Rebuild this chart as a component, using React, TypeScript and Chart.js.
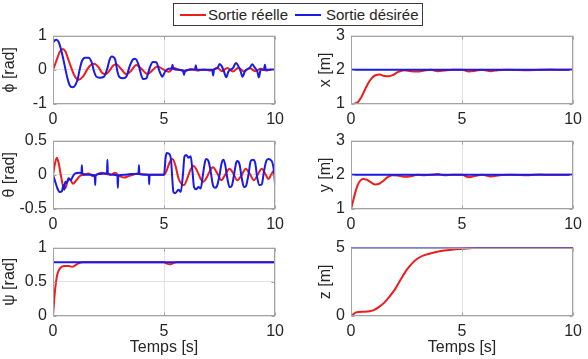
import { useEffect, useRef } from "react";
import { Chart, registerables } from "chart.js";

Chart.register(...registerables);

const FONT = '"Liberation Sans", Arial, Helvetica, sans-serif';
const TEXT = "#262626";
const BOX = "#a3a3a3";
const GRID = "#e2e2e2";
const RED = "#ee1c1c";
const BLUE = "#1a1ae6";

const LABEL_REAL = "Sortie réelle";
const LABEL_DESIRED = "Sortie désirée";
const TIME_LABEL = "Temps [s]";

// Shared time axis
const timeTicks = [0, 5, 10];

// ---- phi (roll) ----
const phiTicks = [-1, 0, 1];
const phiRealT = [0, 0.1, 0.2, 0.3, 0.44, 0.55, 0.65, 0.8, 0.95, 1.15, 1.35, 1.55, 1.7, 1.85, 2.05, 2.2, 2.35, 2.55, 2.7, 2.85, 3.05, 3.3, 3.5, 3.75, 3.95, 4.25, 4.45, 4.7, 4.95, 5.2, 5.45, 5.7, 5.95, 6.2, 6.5, 6.8, 7.1, 7.4, 7.6, 7.85, 8.1, 8.35, 8.6, 8.85, 9.1, 9.35, 9.6, 9.8, 10];
const phiRealV = [0, 0.17, 0.35, 0.52, 0.61, 0.55, 0.38, 0.1, -0.15, -0.29, -0.2, 0.02, 0.14, 0.18, 0.08, -0.08, -0.13, -0.02, 0.12, 0.16, 0.04, -0.13, -0.04, 0.14, 0.05, -0.12, -0.03, 0.1, 0.02, -0.06, 0.05, 0.0, -0.04, 0.02, -0.02, 0.01, -0.02, 0.06, -0.04, 0.05, -0.05, 0.06, -0.05, 0.05, -0.04, 0.03, -0.02, 0.01, 0.0];
const phiDesT = [0, 0.08, 0.15, 0.25, 0.35, 0.45, 0.55, 0.65, 0.75, 0.88, 1.0, 1.1, 1.2, 1.3, 1.45, 1.6, 1.75, 1.85, 1.95, 2.1, 2.3, 2.45, 2.55, 2.65, 2.8, 2.9, 3.0, 3.15, 3.3, 3.45, 3.6, 3.7, 3.85, 3.95, 4.05, 4.2, 4.35, 4.5, 4.65, 4.8, 4.92, 5.05, 5.2, 5.35, 5.38, 5.42, 5.6, 5.85, 5.9, 5.95, 6.2, 6.4, 6.43, 6.47, 6.8, 7.0, 7.17, 7.21, 7.25, 7.4, 7.5, 7.6, 7.7, 7.8, 7.9, 8.1, 8.24, 8.35, 8.45, 8.53, 8.65, 8.85, 8.97, 9.1, 9.2, 9.27, 9.35, 9.5, 9.54, 9.58, 10];
const phiDesV = [0.8, 0.86, 0.88, 0.82, 0.62, 0.35, 0.05, -0.25, -0.45, -0.51, -0.45, -0.3, 0.0, 0.25, 0.35, 0.35, 0.2, -0.05, -0.2, -0.23, -0.2, 0.05, 0.3, 0.39, 0.3, -0.05, -0.22, -0.25, -0.2, 0.1, 0.3, 0.32, 0.15, -0.1, -0.27, -0.25, 0.05, 0.23, 0.22, -0.05, -0.2, -0.05, 0.03, 0.05, 0.15, 0.03, 0.0, -0.02, -0.15, -0.02, 0.0, 0.02, 0.13, 0.0, 0.0, 0.0, 0.0, -0.17, 0.0, 0.05, 0.17, 0.1, -0.05, -0.22, -0.05, 0.05, 0.2, 0.1, -0.05, -0.2, -0.03, 0.05, 0.16, 0.05, -0.05, -0.22, 0.0, 0.0, 0.15, 0.0, 0.0];

// ---- theta (pitch) ----
const thetaTicks = [-0.5, 0, 0.5];
const thetaRealT = [0, 0.08, 0.17, 0.25, 0.35, 0.45, 0.55, 0.65, 0.75, 0.9, 1.05, 1.2, 1.4, 1.6, 1.8, 2.0, 2.2, 2.4, 2.6, 2.8, 3.0, 3.2, 3.4, 3.6, 3.8, 4.0, 4.3, 4.6, 5.0, 5.1, 5.25, 5.38, 5.5, 5.65, 5.8, 5.9, 6.05, 6.2, 6.33, 6.5, 6.65, 6.77, 6.95, 7.1, 7.2, 7.4, 7.58, 7.75, 7.95, 8.1, 8.3, 8.5, 8.68, 8.85, 9.05, 9.2, 9.4, 9.55, 9.7, 9.85, 10];
const thetaRealV = [0, 0.15, 0.25, 0.18, 0.0, -0.16, -0.2, -0.1, -0.06, -0.13, -0.08, -0.02, 0.0, 0.02, -0.02, 0.01, 0.03, 0.01, 0.0, 0.03, -0.02, -0.04, -0.02, 0.0, 0.02, 0.01, 0.0, 0.0, 0.0, 0.05, 0.18, 0.23, 0.15, -0.05, -0.14, -0.15, -0.05, 0.08, 0.13, 0.05, -0.06, -0.1, -0.02, 0.08, 0.11, 0.02, -0.08, 0.0, 0.09, 0.03, -0.08, 0.0, 0.09, 0.02, -0.08, -0.01, 0.09, 0.02, -0.06, 0.02, 0.09];
const thetaDesT = [0, 0.1, 0.2, 0.3, 0.4, 0.47, 0.5, 0.55, 0.62, 0.7, 0.8, 0.9, 1.0, 1.2, 1.28, 1.3, 1.32, 1.5, 1.7, 1.88, 1.9, 1.92, 2.1, 2.3, 2.43, 2.45, 2.47, 2.7, 2.9, 2.92, 2.94, 3.2, 3.5, 3.85, 3.87, 3.89, 4.1, 4.31, 4.33, 4.35, 4.6, 5.0, 5.07, 5.12, 5.25, 5.32, 5.37, 5.42, 5.5, 5.65, 5.75, 5.85, 5.92, 6.0, 6.1, 6.2, 6.28, 6.35, 6.45, 6.55, 6.65, 6.75, 6.85, 6.9, 7.0, 7.1, 7.2, 7.3, 7.4, 7.5, 7.6, 7.68, 7.75, 7.85, 7.95, 8.05, 8.15, 8.25, 8.3, 8.4, 8.5, 8.6, 8.68, 8.8, 8.9, 9.0, 9.1, 9.2, 9.3, 9.4, 9.5, 9.6, 9.7, 9.85, 9.95, 10];
const thetaDesV = [0, -0.1, -0.2, -0.25, -0.24, -0.15, -0.22, -0.1, -0.12, -0.05, -0.08, -0.02, 0.02, 0.03, 0.02, 0.14, 0.02, 0.0, 0.0, -0.01, -0.15, -0.01, 0.01, 0.02, 0.02, 0.22, 0.02, 0.0, -0.01, -0.19, -0.01, 0.0, 0.01, 0.01, 0.14, 0.01, 0.0, 0.0, -0.14, 0.0, 0.0, 0.0, 0.25, 0.32, 0.3, 0.2, -0.05, -0.25, -0.27, -0.22, -0.25, 0.0, 0.27, 0.29, 0.25, 0.27, 0.05, -0.18, -0.21, -0.18, -0.2, 0.0, 0.2, 0.23, 0.2, 0.05, -0.15, -0.19, -0.15, 0.0, 0.18, 0.22, 0.15, -0.05, -0.18, -0.16, 0.0, 0.18, 0.2, 0.15, -0.05, -0.18, -0.17, 0.0, 0.2, 0.22, 0.18, -0.05, -0.15, -0.14, 0.05, 0.2, 0.23, 0.2, 0.05, -0.15];

// ---- psi (yaw) ----
const psiTicks = [0, 0.5, 1];
const psiRealT = [0, 0.05, 0.1, 0.17, 0.25, 0.35, 0.5, 0.7, 0.85, 1.0, 1.15, 1.35, 2.0, 5.0, 5.1, 5.25, 5.4, 5.55, 10];
const psiRealV = [0, 0.22, 0.4, 0.57, 0.66, 0.71, 0.73, 0.73, 0.72, 0.74, 0.77, 0.785, 0.785, 0.785, 0.77, 0.755, 0.77, 0.785, 0.785];
const psiDesT = [0, 10];
const psiDesV = [0.785, 0.785];

// ---- x position ----
const xTicks = [1, 2, 3];
const xRealT = [0, 0.15, 0.3, 0.45, 0.6, 0.75, 0.9, 1.1, 1.3, 1.5, 1.7, 1.9, 2.1, 2.4, 2.7, 3.0, 3.3, 3.6, 3.9, 4.2, 4.6, 5.0, 5.3, 5.6, 5.9, 6.3, 6.6, 7.0, 8.0, 9.0, 9.5, 10];
const xRealV = [1.0, 1.01, 1.05, 1.18, 1.38, 1.58, 1.73, 1.84, 1.86, 1.82, 1.81, 1.85, 1.93, 1.99, 1.96, 1.95, 1.98, 2.0, 1.96, 1.98, 2.0, 2.0, 1.95, 1.97, 2.0, 1.96, 1.99, 2.0, 1.99, 2.01, 2.0, 2.0];
const xDesT = [0, 10];
const xDesV = [2, 2];

// ---- y position ----
const yTicks = [1, 2, 3];
const yRealT = [0, 0.1, 0.2, 0.3, 0.42, 0.55, 0.7, 0.9, 1.1, 1.25, 1.45, 1.65, 1.85, 2.1, 2.4, 2.7, 3.0, 3.3, 3.6, 3.9, 4.2, 4.6, 5.0, 5.3, 5.6, 5.9, 6.3, 6.7, 7.2, 8.0, 8.5, 9.0, 10];
const yRealV = [1.0, 1.25, 1.5, 1.7, 1.83, 1.88, 1.86, 1.78, 1.72, 1.73, 1.82, 1.93, 1.99, 1.98, 1.94, 1.96, 2.0, 1.99, 2.0, 2.02, 1.99, 2.0, 2.0, 1.93, 1.97, 2.0, 1.95, 1.99, 2.0, 1.99, 2.01, 2.0, 2.0];
const yDesT = [0, 10];
const yDesV = [2, 2];

// ---- z position ----
const zTicks = [0, 5];
const zRealT = [0, 0.1, 0.2, 0.35, 0.6, 0.85, 1.05, 1.25, 1.5, 1.75, 2.0, 2.25, 2.5, 2.75, 3.0, 3.3, 3.7, 4.2, 4.7, 5.2, 5.8, 6.5, 10];
const zRealV = [0, 0.12, 0.25, 0.3, 0.31, 0.35, 0.45, 0.65, 0.98, 1.45, 2.0, 2.7, 3.35, 3.85, 4.2, 4.45, 4.63, 4.78, 4.88, 4.94, 4.98, 5.0, 5.0];
const zDesT = [0, 10];
const zDesV = [5, 5];

type Pt = { x: number; y: number };
const zip = (t: number[], v: number[]): Pt[] => t.map((x, i) => ({ x, y: v[i] }));

type Panel = {
  key: string;
  yLabel: string;
  yTicks: number[];
  real: Pt[];
  desired: Pt[];
  col: 0 | 1;
  row: 0 | 1 | 2;
};

const panels: Panel[] = [
  { key: "phi", yLabel: "ϕ [rad]", yTicks: phiTicks, real: zip(phiRealT, phiRealV), desired: zip(phiDesT, phiDesV), col: 0, row: 0 },
  { key: "x", yLabel: "x [m]", yTicks: xTicks, real: zip(xRealT, xRealV), desired: zip(xDesT, xDesV), col: 1, row: 0 },
  { key: "theta", yLabel: "θ [rad]", yTicks: thetaTicks, real: zip(thetaRealT, thetaRealV), desired: zip(thetaDesT, thetaDesV), col: 0, row: 1 },
  { key: "y", yLabel: "y [m]", yTicks: yTicks, real: zip(yRealT, yRealV), desired: zip(yDesT, yDesV), col: 1, row: 1 },
  { key: "psi", yLabel: "ψ [rad]", yTicks: psiTicks, real: zip(psiRealT, psiRealV), desired: zip(psiDesT, psiDesV), col: 0, row: 2 },
  { key: "z", yLabel: "z [m]", yTicks: zTicks, real: zip(zRealT, zRealV), desired: zip(zDesT, zDesV), col: 1, row: 2 },
];

// Subplot geometry (page pixels)
const ROWS = [
  { top: 34, bottom: 104 },
  { top: 139, bottom: 209 },
  { top: 246, bottom: 316 },
];
const COLS = [
  { canvasLeft: 0, canvasRight: 290, left: 53, right: 280, titlePad: 0 },
  { canvasLeft: 310, canvasRight: 588, left: 351, right: 577, titlePad: 6 },
];
const TOP_MARGIN = 14;

// Axes box with inward tick marks, drawn over the data like a MATLAB axes
const axesBox = {
  id: "axesBox",
  afterDatasetsDraw(chart: any) {
    const { ctx, chartArea: a, scales } = chart;
    const l = Math.round(a.left) + 0.5;
    const r = Math.round(a.right) - 0.5;
    const t = Math.round(a.top) + 0.5;
    const b = Math.round(a.bottom) - 0.5;
    const tl = 3;
    ctx.save();
    ctx.strokeStyle = BOX;
    ctx.lineWidth = 1;
    ctx.strokeRect(l, t, r - l, b - t);
    ctx.beginPath();
    scales.x.ticks.forEach((tk: any) => {
      const px = Math.round(scales.x.getPixelForValue(tk.value)) + 0.5;
      ctx.moveTo(px, b);
      ctx.lineTo(px, b - tl);
      ctx.moveTo(px, t);
      ctx.lineTo(px, t + tl);
    });
    scales.y.ticks.forEach((tk: any) => {
      const py = Math.round(scales.y.getPixelForValue(tk.value)) + 0.5;
      ctx.moveTo(l, py);
      ctx.lineTo(l + tl, py);
      ctx.moveTo(r, py);
      ctx.lineTo(r - tl, py);
    });
    ctx.stroke();
    ctx.restore();
  },
};

function SubPlot({ p }: { p: Panel }) {
  const ref = useRef<HTMLCanvasElement | null>(null);
  const col = COLS[p.col];
  const row = ROWS[p.row];
  const isBottom = p.row === 2;
  const canvasTop = row.top - TOP_MARGIN;
  const canvasBottom = isBottom ? 359 : row.bottom + 30;
  const width = col.canvasRight - col.canvasLeft;
  const height = canvasBottom - canvasTop;

  useEffect(() => {
    if (!ref.current) return;
    const tickFont = { family: FONT, size: 16 };
    const chart = new Chart(ref.current, {
      type: "line",
      data: {
        datasets: [
          {
            label: LABEL_REAL,
            data: p.real,
            borderColor: RED,
            borderWidth: 2,
            pointRadius: 0,
            cubicInterpolationMode: "monotone",
            order: 1,
          },
          {
            label: LABEL_DESIRED,
            data: p.desired,
            borderColor: BLUE,
            borderWidth: 2,
            pointRadius: 0,
            cubicInterpolationMode: "monotone",
            order: 0,
          },
        ],
      },
      options: {
        responsive: false,
        animation: false,
        devicePixelRatio: 1,
        events: [],
        layout: {
          padding: { top: TOP_MARGIN, right: col.canvasRight - col.right, left: 0, bottom: 0 },
        },
        plugins: { legend: { display: false }, tooltip: { enabled: false } },
        scales: {
          x: {
            type: "linear",
            min: 0,
            max: 10,
            afterBuildTicks: (s: any) => {
              s.ticks = timeTicks.map((v) => ({ value: v }));
            },
            afterFit: (s: any) => {
              s.height = canvasBottom - row.bottom;
            },
            grid: { color: GRID, drawTicks: false, lineWidth: 1 },
            border: { display: false },
            ticks: {
              font: tickFont,
              color: TEXT,
              padding: 6,
              maxRotation: 0,
              autoSkip: false,
              callback: (v: any) => String(v),
            },
            title: {
              display: isBottom,
              text: TIME_LABEL,
              font: tickFont,
              color: TEXT,
              padding: { top: 0, bottom: 2 },
            },
          },
          y: {
            type: "linear",
            min: p.yTicks[0],
            max: p.yTicks[p.yTicks.length - 1],
            afterBuildTicks: (s: any) => {
              s.ticks = p.yTicks.map((v) => ({ value: v }));
            },
            afterFit: (s: any) => {
              s.width = col.left - col.canvasLeft;
            },
            grid: { color: GRID, drawTicks: false, lineWidth: 1 },
            border: { display: false },
            ticks: {
              font: tickFont,
              color: TEXT,
              padding: 6,
              autoSkip: false,
              callback: (v: any) => String(v),
            },
            title: {
              display: true,
              text: p.yLabel,
              font: tickFont,
              color: TEXT,
              padding: { top: col.titlePad, bottom: 0 },
            },
          },
        },
      },
      plugins: [axesBox],
    } as any);
    return () => chart.destroy();
  }, []);

  return (
    <canvas
      ref={ref}
      width={width}
      height={height}
      style={{ position: "absolute", left: col.canvasLeft, top: canvasTop, width, height }}
    />
  );
}

function Legend() {
  const item = (left: number, color: string, text: string, textLeft: number) => (
    <>
      <span
        style={{ position: "absolute", left, top: 10, width: 26, height: 2, background: color }}
      />
      <span
        style={{ position: "absolute", left: textLeft, top: 0, lineHeight: "21px", whiteSpace: "nowrap" }}
      >
        {text}
      </span>
    </>
  );
  return (
    <div
      style={{
        position: "absolute",
        left: 173,
        top: 3,
        width: 250,
        height: 23,
        boxSizing: "border-box",
        border: "1px solid #3a3a3a",
        background: "#fff",
        fontFamily: FONT,
        fontSize: 15,
        color: TEXT,
      }}
    >
      {item(6, RED, LABEL_REAL, 34)}
      {item(121, BLUE, LABEL_DESIRED, 152)}
    </div>
  );
}

export default function App() {
  return (
    <div
      style={{
        position: "fixed",
        left: 0,
        top: 0,
        width: 588,
        height: 359,
        background: "#fff",
        overflow: "hidden",
      }}
    >
      {panels.map((p) => (
        <SubPlot key={p.key} p={p} />
      ))}
      <Legend />
    </div>
  );
}
